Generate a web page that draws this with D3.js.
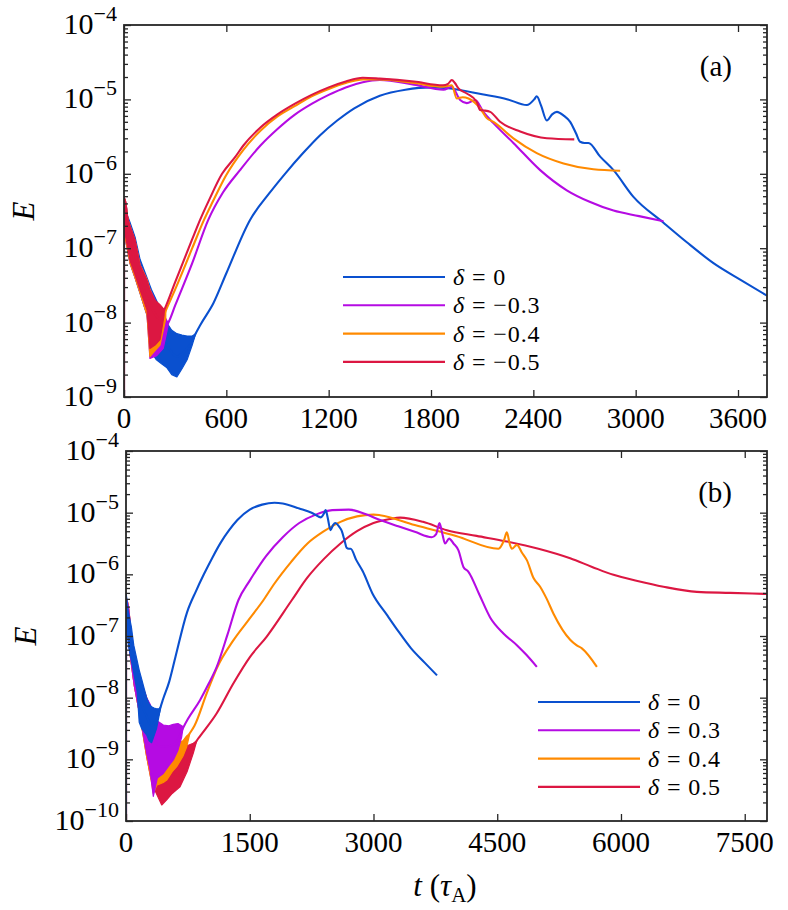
<!DOCTYPE html>
<html><head><meta charset="utf-8">
<script src="https://cdn.jsdelivr.net/npm/d3@7"></script>
<style>
body{margin:0;background:#fff}
svg{display:block}
text{font-family:"Liberation Serif","Times New Roman",serif;fill:#000}
</style>
</head><body>
<svg id="chart" width="788" height="910"></svg>
<script>
// ---------- DATA ----------
// delta = 0 (same run shown in both panels)
const d0T = [0,0,35,94,135,190,250,310,370,400,416,450,524,600,739,850,944,1050,1150,1250,1350,1500,1650,1800,1900,2100,2250,2362,2405,2420,2445,2479,2510,2538,2580,2616,2650,2674,2700,2723,2792,2870,2987,3163,3300,3456,3620,3770];
const d0E = [1e-11,4.7e-7,1.12e-7,4.0e-8,2.24e-8,7.9e-9,5.0e-9,3.5e-9,4.5e-9,5.6e-9,6.8e-9,9.5e-9,1.82e-8,4.6e-8,2.4e-7,5.4e-7,1.0e-6,1.9e-6,3.3e-6,5.2e-6,7.6e-6,1.12e-5,1.35e-5,1.45e-5,1.41e-5,1.17e-5,1.0e-5,8.4e-6,1.0e-5,1.1e-5,8.3e-6,5.2e-6,6.3e-6,6.8e-6,6.0e-6,5.0e-6,3.5e-6,2.7e-6,2.6e-6,2.6e-6,1.7e-6,1.12e-6,4.9e-7,2.2e-7,1.2e-7,6.3e-8,3.7e-8,2.3e-8];
const d0BandT  = [0,10,35,65,94,135,160,190,220,250,280,310,340,370,400,420];
const d0BandHi = [4.7e-7,3.16e-7,2.24e-7,1.41e-7,7.1e-8,4.0e-8,2.8e-8,2.0e-8,1.41e-8,1.0e-8,7.9e-9,7.1e-9,6.8e-9,6.6e-9,6.6e-9,7.1e-9];
const d0BandLo = [3.16e-7,1.26e-7,6.3e-8,4.0e-8,2.5e-8,1.26e-8,4.0e-9,3.16e-9,2.8e-9,2.5e-9,2.0e-9,1.86e-9,2.4e-9,3.16e-9,5.0e-9,7.1e-9];

// panel (a): delta = -0.3
const aM3T = [0,0,35,94,152,211,260,300,400,494,580,680,800,900,1000,1100,1200,1300,1400,1500,1700,1873,1922,1971,2010,2059,2107,2166,2283,2440,2596,2730,2870,3020,3163];
const aM3E = [1e-11,4.7e-7,1.26e-7,4.0e-8,1.5e-8,8.0e-9,1.0e-8,1.7e-8,6.3e-8,2.4e-7,5.6e-7,1.12e-6,2.4e-6,4.0e-6,6.2e-6,8.7e-6,1.15e-5,1.45e-5,1.7e-5,1.82e-5,1.58e-5,1.35e-5,1.48e-5,9.8e-6,8.9e-6,9.8e-6,6.8e-6,4.8e-6,2.6e-6,1.12e-6,6.0e-7,4.2e-7,3.2e-7,2.7e-7,2.3e-7];
const aM3BandT  = [0,10,35,65,94,135,152,192,230,258];
const aM3BandHi = [4.7e-7,3.16e-7,2.0e-7,1.26e-7,6.0e-8,3.8e-8,2.8e-8,1.8e-8,1.3e-8,1.0e-8];
const aM3BandLo = [3.16e-7,1.26e-7,6.3e-8,4.0e-8,2.5e-8,1.26e-8,3.3e-9,3.6e-9,4.5e-9,9.0e-9];

// panel (a): delta = -0.4
const aM4T = [0,0,35,94,152,211,250,300,400,469,520,598,700,800,900,1000,1100,1200,1300,1400,1500,1700,1873,1922,1951,1985,2020,2088,2127,2166,2283,2420,2577,2752,2909];
const aM4E = [1e-11,4.7e-7,1.26e-7,4.0e-8,1.6e-8,1.0e-8,1.55e-8,2.8e-8,1.0e-7,2.4e-7,4.2e-7,9.5e-7,2.1e-6,3.8e-6,5.9e-6,8.1e-6,1.1e-5,1.38e-5,1.66e-5,1.86e-5,1.86e-5,1.66e-5,1.48e-5,1.55e-5,1.03e-5,1.07e-5,1.03e-5,7.6e-6,5.6e-6,5.0e-6,3.0e-6,1.9e-6,1.38e-6,1.15e-6,1.1e-6];
const aM4BandT  = [0,10,35,65,94,135,152,182,211,245];
const aM4BandHi = [4.7e-7,3.16e-7,2.0e-7,1.26e-7,6.0e-8,3.8e-8,2.8e-8,1.9e-8,1.58e-8,1.41e-8];
const aM4BandLo = [3.16e-7,1.26e-7,6.3e-8,4.0e-8,2.5e-8,1.26e-8,3.5e-9,4.2e-9,5.0e-9,1.12e-8];

// panel (a): delta = -0.5
const aM5T = [0,0,35,94,152,211,240,300,350,400,446,500,575,650,700,800,900,1000,1100,1200,1300,1400,1500,1700,1870,1900,1922,1940,1961,2010,2068,2088,2110,2147,2205,2323,2479,2640];
const aM5E = [1e-11,4.7e-7,1.26e-7,4.0e-8,1.78e-8,1.12e-8,1.55e-8,3.5e-8,6.8e-8,1.32e-7,2.4e-7,4.5e-7,1.0e-6,1.66e-6,2.4e-6,4.2e-6,6.3e-6,8.7e-6,1.15e-5,1.45e-5,1.74e-5,1.95e-5,1.9e-5,1.74e-5,1.55e-5,1.62e-5,1.82e-5,1.66e-5,1.41e-5,1.2e-5,9.3e-6,7.2e-6,7.1e-6,6.8e-6,5.0e-6,3.7e-6,3.0e-6,2.9e-6];
const aM5BandT  = [0,10,35,65,94,135,152,182,211,235];
const aM5BandHi = [4.7e-7,3.16e-7,2.0e-7,1.29e-7,5.9e-8,3.7e-8,2.75e-8,2.0e-8,1.74e-8,1.51e-8];
const aM5BandLo = [3.5e-7,1.41e-7,6.9e-8,4.4e-8,2.75e-8,1.48e-8,4.5e-9,5.0e-9,5.9e-9,1.26e-8];

// panel (b): delta = 0.3
const bP3T = [0,0,100,250,450,600,690,750,897,1000,1100,1230,1362,1500,1700,1900,2100,2300,2500,2700,2900,3080,3300,3500,3707,3760,3800,3835,3868,3917,3970,4030,4090,4151,4280,4414,4575,4738,4850,4980];
const bP3E = [1e-11,4.0e-7,2.8e-8,3.5e-9,1.6e-9,1.8e-9,3.2e-9,4.5e-9,9.1e-9,1.66e-8,3.16e-8,1.05e-7,3.8e-7,7.9e-7,2.0e-6,4.0e-6,6.8e-6,9.3e-6,1.1e-5,1.12e-5,9.5e-6,7.6e-6,6.0e-6,4.9e-6,4.0e-6,4.5e-6,6.8e-6,4.5e-6,3.16e-6,3.8e-6,3.16e-6,2.45e-6,1.32e-6,1.1e-6,4.8e-7,2.0e-7,1.1e-7,7.1e-8,5.0e-8,3.16e-8];
const bP3BandT  = [0,50,100,170,250,291,331,380,452,520,574,630,675,690];
const bP3BandHi = [3.98e-7,1.26e-7,5.0e-8,2.0e-8,1.0e-8,7.9e-9,5.6e-9,4.2e-9,3.6e-9,3.5e-9,3.7e-9,3.8e-9,3.5e-9,3.4e-9];
const bP3BandLo = [2.5e-7,5.0e-8,1.58e-8,5.0e-9,1.26e-9,6.8e-10,2.5e-10,5.0e-10,5.9e-10,7.9e-10,9.8e-10,1.41e-9,2.3e-9,3.16e-9];

// panel (b): delta = 0.4
const bP4T = [0,0,100,250,400,600,770,830,978,1100,1301,1480,1665,1800,2000,2200,2400,2600,2800,3000,3080,3500,4000,4515,4580,4617,4650,4677,4738,4800,4859,4940,5020,5100,5182,5384,5460,5526,5708];
const bP4E = [1e-11,4.0e-7,2.8e-8,3.2e-9,1.0e-9,1.2e-9,2.6e-9,3.5e-9,1.17e-8,3.0e-8,8.5e-8,1.78e-7,3.8e-7,7.1e-7,1.58e-6,3.16e-6,5.0e-6,7.1e-6,8.7e-6,9.3e-6,9.1e-6,6.3e-6,4.2e-6,2.6e-6,3.5e-6,4.8e-6,3.16e-6,2.6e-6,3.0e-6,2.24e-6,1.7e-6,8.7e-7,6.3e-7,4.0e-7,2.3e-7,8.7e-8,7.1e-8,6.3e-8,3.16e-8];
const bP4BandT  = [0,50,100,170,250,300,331,372,452,493,560,614,690,735,770];
const bP4BandHi = [3.98e-7,1.26e-7,5.0e-8,2.0e-8,1.0e-8,6.3e-9,5.0e-9,3.8e-9,2.8e-9,2.4e-9,1.9e-9,1.82e-9,2.0e-9,2.4e-9,2.6e-9];
const bP4BandLo = [2.5e-7,5.0e-8,1.58e-8,5.0e-9,1.12e-9,5.0e-10,2.8e-10,3.8e-10,4.2e-10,4.6e-10,6.3e-10,7.6e-10,1.12e-9,1.58e-9,2.5e-9];

// panel (b): delta = 0.5
const bP5T = [0,0,100,250,433,655,857,900,1100,1301,1504,1706,2009,2200,2400,2600,2800,3000,3200,3323,3600,3889,4250,4617,5000,5384,5650,5909,6200,6515,6920,7324,7770];
const bP5E = [1e-11,4.0e-7,2.8e-8,3.2e-9,7.5e-10,5.5e-10,2.0e-9,2.4e-9,5.6e-9,1.7e-8,4.6e-8,9.8e-8,3.8e-7,8.9e-7,1.78e-6,3.16e-6,5.0e-6,6.8e-6,7.9e-6,8.3e-6,7.1e-6,5.2e-6,4.2e-6,3.4e-6,2.6e-6,1.82e-6,1.32e-6,9.8e-7,7.8e-7,6.3e-7,5.2e-7,5.0e-7,4.8e-7];
const bP5BandT  = [0,50,100,170,250,300,350,433,493,560,655,740,816,857];
const bP5BandHi = [3.98e-7,1.26e-7,5.0e-8,2.0e-8,1.0e-8,6.3e-9,4.5e-9,3.16e-9,2.5e-9,2.0e-9,1.66e-9,1.66e-9,1.82e-9,2.0e-9];
const bP5BandLo = [2.5e-7,5.0e-8,1.58e-8,5.0e-9,1.12e-9,5.0e-10,3.16e-10,1.82e-10,2.2e-10,2.8e-10,3.6e-10,6.3e-10,1.26e-9,2.0e-9];

// ticks & labels
const aXTicks = [0,600,1200,1800,2400,3000,3600];
const bXTicks = [0,1500,3000,4500,6000,7500];
const aYExps = [-9,-8,-7,-6,-5,-4];
const bYExps = [-10,-9,-8,-7,-6,-5,-4];
const aLegend = ["0","\u22120.3","\u22120.4","\u22120.5"];
const bLegend = ["0","0.3","0.4","0.5"];

// ---------- DRAWING ----------
const svg = d3.select("#chart");
const COL = {blue:"#0a50cf", mag:"#b50be3", org:"#ff8a00", red:"#dc1742"};
const AX = "#262626";

function panel(p){
  const g = svg.append("g");
  const x = d3.scaleLinear().domain([0,p.xmax]).range([p.l,p.r]);
  const y = d3.scaleLog().domain([p.ymin,p.ymax]).range([p.b,p.t]);
  svg.append("defs").append("clipPath").attr("id",p.id)
    .append("rect").attr("x",p.l).attr("y",p.t).attr("width",p.r-p.l).attr("height",p.b-p.t);
  const dg = g.append("g").attr("clip-path",`url(#${p.id})`);
  p.order.forEach(idx=>{
    const s = p.series[idx];
    const band = s.bt.map((t,i)=>({t,hi:s.bh[i],lo:s.bl[i]}));
    dg.append("path").datum(band)
      .attr("d", d3.area().x(d=>x(d.t)).y0(d=>y(d.lo)).y1(d=>y(d.hi)).curve(d3.curveLinear))
      .attr("fill",s.c).attr("stroke",s.c).attr("stroke-width",1.2).attr("stroke-linejoin","round");
    const pts = s.t.map((t,i)=>({t,e:s.e[i]}));
    dg.append("path").datum(pts)
      .attr("d", d3.line().x(d=>x(d.t)).y(d=>y(d.e)).curve(d3.curveMonotoneX))
      .attr("fill","none").attr("stroke",s.c).attr("stroke-width",2.1).attr("stroke-linejoin","round");
  });
  // axes ticks
  const majors = p.yexps.map(k=>Math.pow(10,k));
  const minors = [];
  for(let k=p.yexps[0];k<p.yexps[p.yexps.length-1];k++) for(let m=2;m<=9;m++) minors.push(m*Math.pow(10,k));
  const tickStyle = sel=>{ sel.select(".domain").remove(); sel.selectAll("line").attr("stroke",AX).attr("stroke-width",1.3); };
  g.append("g").attr("transform",`translate(${p.l},0)`).call(d3.axisLeft(y).tickValues(majors).tickSizeInner(-7).tickSizeOuter(0).tickFormat("")).call(tickStyle);
  g.append("g").attr("transform",`translate(${p.l},0)`).call(d3.axisLeft(y).tickValues(minors).tickSizeInner(-4).tickSizeOuter(0).tickFormat("")).call(tickStyle);
  g.append("g").attr("transform",`translate(${p.r},0)`).call(d3.axisRight(y).tickValues(majors).tickSizeInner(-7).tickSizeOuter(0).tickFormat("")).call(tickStyle);
  g.append("g").attr("transform",`translate(${p.r},0)`).call(d3.axisRight(y).tickValues(minors).tickSizeInner(-4).tickSizeOuter(0).tickFormat("")).call(tickStyle);
  g.append("g").attr("transform",`translate(0,${p.b})`).call(d3.axisBottom(x).tickValues(p.xticks).tickSizeInner(-7).tickSizeOuter(0).tickFormat("")).call(tickStyle);
  g.append("g").attr("transform",`translate(0,${p.t})`).call(d3.axisTop(x).tickValues(p.xticks).tickSizeInner(-7).tickSizeOuter(0).tickFormat("")).call(tickStyle);
  // box
  g.append("rect").attr("x",p.l).attr("y",p.t).attr("width",p.r-p.l).attr("height",p.b-p.t)
    .attr("fill","none").attr("stroke",AX).attr("stroke-width",1.8);
  // x tick labels
  g.selectAll(".xl").data(p.xticks).join("text")
    .attr("x",d=>x(d)).attr("y",p.b+31).attr("text-anchor","middle").attr("font-size",29).text(d=>d);
  // y tick labels
  p.yexps.forEach(k=>{
    const t = g.append("text").attr("x",p.l-7).attr("y",y(Math.pow(10,k))+9).attr("text-anchor","end").attr("font-size",30);
    t.append("tspan").text("10");
    t.append("tspan").attr("dy",-13).attr("font-size",22).text("\u2212"+Math.abs(k));
  });
  // y label
  g.append("text").attr("transform",`translate(${p.l-90},${(p.t+p.b)/2}) rotate(-90)`)
    .attr("text-anchor","middle").attr("font-size",31).attr("font-style","italic").text("E");
  // panel tag
  g.append("text").attr("x",p.r-35).attr("y",p.t+51).attr("text-anchor","end").attr("font-size",29).text(p.tag);
  // legend
  p.series.forEach((s,i)=>{
    const ly = p.legY + i*28.3;
    g.append("line").attr("x1",p.legX).attr("x2",p.legX+102).attr("y1",ly).attr("y2",ly)
      .attr("stroke",s.c).attr("stroke-width",2.1);
    const t = g.append("text").attr("x",p.legX+110).attr("y",ly+8).attr("font-size",24)
      .attr("letter-spacing",0.9);
    t.append("tspan").attr("font-style","italic").text("\u03b4");
    t.append("tspan").text(" = "+p.legend[i]);
  });
}

panel({id:"ca", l:124, r:767, t:25, b:397, xmax:3770, ymin:1e-9, ymax:1e-4,
  xticks:aXTicks, yexps:aYExps, tag:"(a)", legend:aLegend, legX:343, legY:277,
  order:[0,1,2,3],
  series:[
    {t:d0T,e:d0E,bt:d0BandT,bh:d0BandHi,bl:d0BandLo,c:COL.blue},
    {t:aM3T,e:aM3E,bt:aM3BandT,bh:aM3BandHi,bl:aM3BandLo,c:COL.mag},
    {t:aM4T,e:aM4E,bt:aM4BandT,bh:aM4BandHi,bl:aM4BandLo,c:COL.org},
    {t:aM5T,e:aM5E,bt:aM5BandT,bh:aM5BandHi,bl:aM5BandLo,c:COL.red}
  ]});

panel({id:"cb", l:126, r:767, t:451, b:821, xmax:7770, ymin:1e-10, ymax:1e-4,
  xticks:bXTicks, yexps:bYExps, tag:"(b)", legend:bLegend, legX:538, legY:702,
  order:[3,2,1,0],
  series:[
    {t:d0T,e:d0E,bt:d0BandT,bh:d0BandHi,bl:d0BandLo,c:COL.blue},
    {t:bP3T,e:bP3E,bt:bP3BandT,bh:bP3BandHi,bl:bP3BandLo,c:COL.mag},
    {t:bP4T,e:bP4E,bt:bP4BandT,bh:bP4BandHi,bl:bP4BandLo,c:COL.org},
    {t:bP5T,e:bP5E,bt:bP5BandT,bh:bP5BandHi,bl:bP5BandLo,c:COL.red}
  ]});

// x label
const xl = svg.append("text").attr("x",445).attr("y",896).attr("text-anchor","middle").attr("font-size",31);
xl.append("tspan").attr("font-style","italic").text("t");
xl.append("tspan").text(" (");
xl.append("tspan").attr("font-style","italic").text("\u03c4");
xl.append("tspan").attr("font-size",21).attr("dy",6).text("A");
xl.append("tspan").attr("dy",-6).text(")");
</script>
</body></html>
